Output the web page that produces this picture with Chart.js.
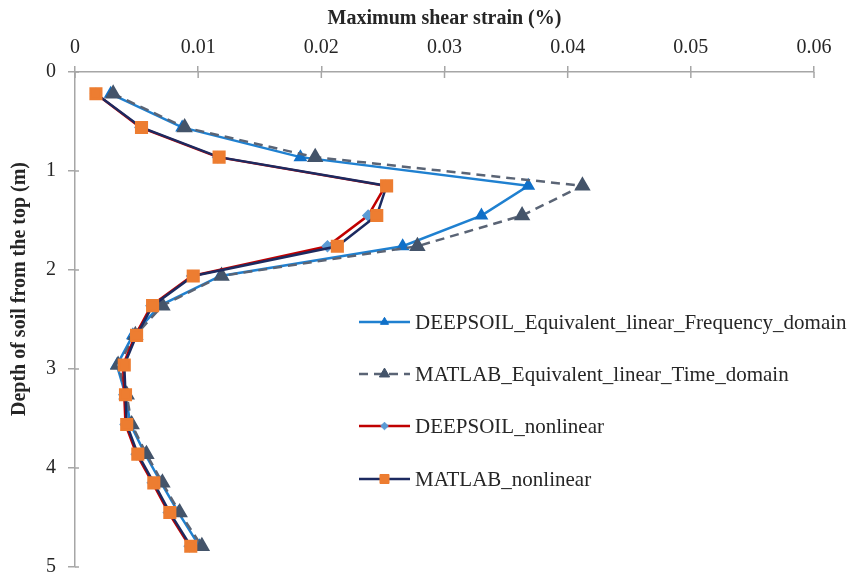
<!DOCTYPE html>
<html>
<head>
<meta charset="utf-8">
<script src="https://cdn.jsdelivr.net/npm/chart.js@4"></script>
<style>
  html, body { margin: 0; padding: 0; background: #fff; }
  #wrap { width: 852px; height: 577px; }
</style>
</head>
<body>
<div id="wrap"><canvas id="myChart" width="852" height="577"></canvas></div>
<script>
// depth of each layer (m)
const depths = [0.22, 0.56, 0.86, 1.15, 1.45, 1.76, 2.06, 2.36, 2.66, 2.96, 3.26, 3.56, 3.86, 4.15, 4.45, 4.79];

// maximum shear strain (%)
const deepsoilEL = [0.0029, 0.0087, 0.0183, 0.0368, 0.0330, 0.0266, 0.0118, 0.0069, 0.0047, 0.0034, 0.0041, 0.0045, 0.0057, 0.0070, 0.0084, 0.0101];
const matlabEL = [0.0031, 0.0089, 0.0195, 0.0412, 0.0363, 0.0278, 0.0119, 0.0071, 0.0049, 0.0035, 0.0042, 0.0046, 0.0058, 0.0071, 0.0085, 0.0103];
const deepsoilNL = [0.0017, 0.0053, 0.0116, 0.0252, 0.0238, 0.0205, 0.0095, 0.0062, 0.0049, 0.0039, 0.0040, 0.0041, 0.0050, 0.0063, 0.0076, 0.0093];
const matlabNL = [0.0017, 0.0054, 0.0117, 0.0253, 0.0245, 0.0213, 0.0096, 0.0063, 0.0050, 0.0040, 0.0041, 0.0042, 0.0051, 0.0064, 0.0077, 0.0094];

const seriesNames = [
    'DEEPSOIL_Equivalent_linear_Frequency_domain',
    'MATLAB_Equivalent_linear_Time_domain',
    'DEEPSOIL_nonlinear',
    'MATLAB_nonlinear'
];

const xTicks = [0, 0.01, 0.02, 0.03, 0.04, 0.05, 0.06];
const yTicks = [0, 1, 2, 3, 4, 5];
const yTitle = 'Depth of soil from the top (m)';

function pts(vals) {
    return vals.map(function (v, i) { return { x: v, y: depths[i] }; });
}

const FONT = "'Liberation Serif', 'Times New Roman', serif";
const AXIS = '#a6a6a6';

// legend drawn inside the plot, like the original
const insideLegend = {
    id: 'insideLegend',
    afterDraw(chart) {
        const ctx = chart.ctx;
        const rows = [322, 374, 426, 479];
        chart.data.datasets.forEach(function (ds, i) {
            const y = rows[i];
            ctx.save();
            ctx.strokeStyle = ds.borderColor;
            ctx.lineWidth = ds.borderWidth;
            ctx.setLineDash(ds.borderDash || []);
            ctx.beginPath();
            ctx.moveTo(359, y);
            ctx.lineTo(410, y);
            ctx.stroke();
            ctx.setLineDash([]);
            ctx.fillStyle = ds.pointBackgroundColor;
            ctx.strokeStyle = ds.pointBorderColor;
            ctx.lineWidth = 1;
            Chart.helpers.drawPoint(ctx, {
                pointStyle: ds.pointStyle,
                radius: ds.pointRadius * 0.85,
                rotation: 0,
                borderWidth: 1
            }, 384.5, y);
            ctx.fillStyle = '#262626';
            ctx.font = '21px ' + FONT;
            ctx.textBaseline = 'middle';
            ctx.textAlign = 'left';
            ctx.fillText(ds.label, 415, y + 1);
            ctx.restore();
        });

        // y axis title, placed a bit above the middle as in the original
        ctx.save();
        ctx.translate(20, 289);
        ctx.rotate(-Math.PI / 2);
        ctx.fillStyle = '#262626';
        ctx.font = 'bold 20px ' + FONT;
        ctx.textAlign = 'center';
        ctx.textBaseline = 'middle';
        ctx.fillText(yTitle, 0, 0);
        ctx.restore();

        // inner half of the cross tick marks
        const xs = chart.scales.x, ys = chart.scales.y;
        ctx.save();
        ctx.strokeStyle = AXIS;
        ctx.lineWidth = 1.5;
        ctx.beginPath();
        xTicks.forEach(function (t) {
            const px = xs.getPixelForValue(t);
            ctx.moveTo(px, xs.bottom);
            ctx.lineTo(px, xs.bottom + 6);
        });
        yTicks.forEach(function (t) {
            const py = ys.getPixelForValue(t);
            ctx.moveTo(ys.right, py);
            ctx.lineTo(ys.right + 4, py);
        });
        ctx.stroke();
        ctx.restore();
    }
};

const ctxEl = document.getElementById('myChart');
new Chart(ctxEl, {
    type: 'scatter',
    data: {
        datasets: [{
            label: seriesNames[0],
            data: pts(deepsoilEL),
            showLine: true,
            borderColor: '#1f80d0',
            borderWidth: 2.5,
            pointStyle: 'triangle',
            pointRadius: 5.5,
            pointBackgroundColor: '#1070c8',
            pointBorderColor: '#1070c8',
            order: 4
        }, {
            label: seriesNames[1],
            data: pts(matlabEL),
            showLine: true,
            borderColor: '#5a6475',
            borderWidth: 2.5,
            borderDash: [9, 6],
            pointStyle: 'triangle',
            pointRadius: 7,
            pointBackgroundColor: '#44546a',
            pointBorderColor: '#44546a',
            order: 3
        }, {
            label: seriesNames[2],
            data: pts(deepsoilNL),
            showLine: true,
            borderColor: '#c00000',
            borderWidth: 2.5,
            pointStyle: 'rectRot',
            pointRadius: 4.5,
            pointBackgroundColor: '#5b9bd5',
            pointBorderColor: '#5b9bd5',
            order: 2
        }, {
            label: seriesNames[3],
            data: pts(matlabNL),
            showLine: true,
            borderColor: '#1c2a60',
            borderWidth: 2.5,
            pointStyle: 'rect',
            pointRadius: 7.5,
            pointBackgroundColor: '#ed7d31',
            pointBorderColor: '#ed7d31',
            order: 1
        }]
    },
    options: {
        responsive: false,
        animation: false,
        layout: { padding: { left: 0, top: 0, right: 38, bottom: 5 } },
        plugins: {
            legend: { display: false },
            tooltip: { enabled: false }
        },
        scales: {
            x: {
                type: 'linear',
                position: 'top',
                min: 0,
                max: 0.06,
                afterBuildTicks: function (s) { s.ticks = xTicks.map(function (v) { return { value: v }; }); },
                afterFit: function (s) { s.height = 72; },
                ticks: {
                    color: '#262626',
                    font: { family: FONT, size: 20 },
                    padding: 6,
                    maxRotation: 0,
                    callback: function (v) { return String(Number(v.toFixed(2))); }
                },
                grid: { drawOnChartArea: false, color: AXIS, lineWidth: 1.5, tickLength: 6 },
                border: { color: AXIS, width: 1.5 },
                title: {
                    display: true,
                    text: 'Maximum shear strain (%)',
                    color: '#262626',
                    font: { family: FONT, size: 20, weight: 'bold' },
                    padding: { top: 7, bottom: 0 }
                }
            },
            y: {
                type: 'linear',
                reverse: true,
                min: 0,
                max: 5,
                afterBuildTicks: function (s) { s.ticks = yTicks.map(function (v) { return { value: v }; }); },
                afterFit: function (s) {
                    s.width = 75;
                    s.paddingTop = 0;
                    s.paddingBottom = 0;
                },
                ticks: {
                    color: '#262626',
                    font: { family: FONT, size: 20 },
                    padding: 12
                },
                grid: { drawOnChartArea: false, color: AXIS, lineWidth: 1.5, tickLength: 7 },
                border: { color: AXIS, width: 1.5 }
            }
        }
    },
    plugins: [insideLegend]
});
</script>
</body>
</html>
